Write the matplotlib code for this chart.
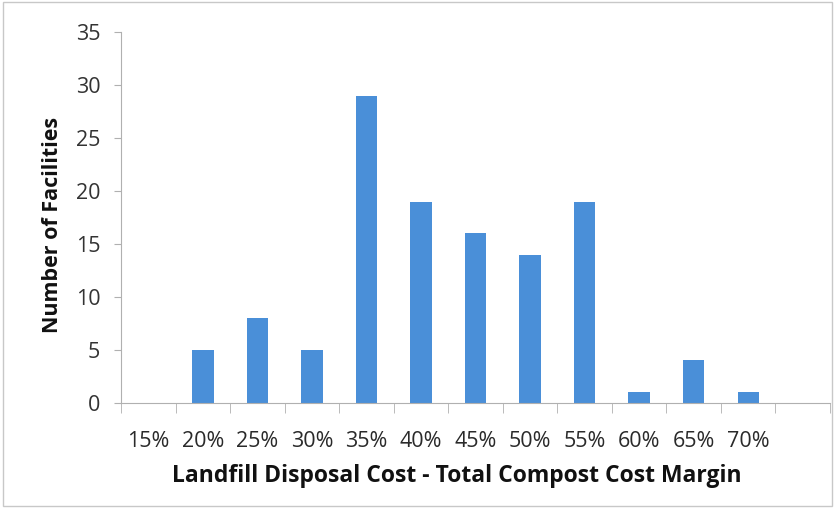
import matplotlib
matplotlib.use("Agg")
import matplotlib.pyplot as plt
from matplotlib.patches import Rectangle
import numpy as np

categories = ["15%", "20%", "25%", "30%", "35%", "40%", "45%", "50%", "55%", "60%", "65%", "70%", ""]
facilities = [0, 5, 8, 5, 29, 19, 16, 14, 19, 1, 4, 1, 0]

plt.rcParams['font.family'] = ['Open Sans', 'DejaVu Sans']

fig = plt.figure(figsize=(8.35, 5.08), dpi=100)
ax = fig.add_axes([0.145, 0.207, 0.849, 0.730])

x = np.arange(len(categories))
ax.bar(x, facilities, width=0.39, color="#4A8FD8")

ax.set_xlim(-0.5, len(categories) - 0.5)
ax.set_ylim(0, 35)
ax.set_yticks(range(0, 36, 5))
ax.set_xticks(x)
ax.set_xticklabels(categories)
ax.set_xticks(np.arange(-0.5, len(categories), 1), minor=True)
ax.tick_params(axis="x", which="major", length=0, labelsize=15.5, labelcolor="#2A2A2A", pad=20)
ax.tick_params(axis="x", which="minor", length=7, color="#B0B0B0", direction="out")
ax.tick_params(axis="y", length=5, color="#B0B0B0", labelsize=15.5, labelcolor="#333333", pad=10)

for side in ["top", "right"]:
    ax.spines[side].set_visible(False)
for side in ["left", "bottom"]:
    ax.spines[side].set_color("#B0B0B0")

ax.set_xlabel("Landfill Disposal Cost - Total Compost Cost Margin", fontsize=16.5, fontweight="bold",
              color="#111111")
ax.xaxis.set_label_coords(0.474, -0.165)
ax.set_ylabel("Number of Facilities", fontsize=15.5, fontweight="bold", color="#111111")
ax.yaxis.set_label_coords(-0.082, 0.48)

fig.patches.append(Rectangle((0.003, 0.004), 0.994, 0.992, transform=fig.transFigure,
                             fill=False, edgecolor="#C8C8C8", linewidth=1))

fig.savefig("out.png", dpi=100)
